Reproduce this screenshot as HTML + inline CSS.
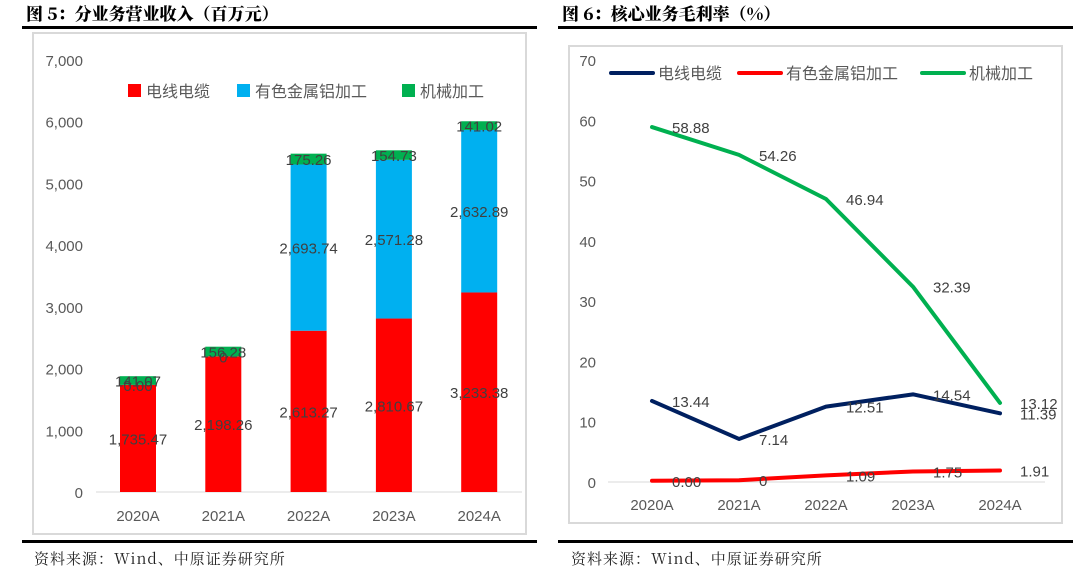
<!DOCTYPE html>
<html><head><meta charset="utf-8">
<style>
body{margin:0;width:1080px;height:577px;background:#fff;position:relative;overflow:hidden;font-family:"Liberation Sans","Noto Sans CJK SC",sans-serif;}
.t{position:absolute;font-family:"Noto Serif CJK SC","Liberation Serif",serif;font-weight:900;font-size:17px;color:#000;}
.rule{position:absolute;height:3px;background:#000;}
.src{position:absolute;font-family:"Noto Serif CJK SC","Liberation Mono",serif;font-size:15px;color:#222;letter-spacing:1px;}
svg{position:absolute;left:0;top:0;}
</style></head><body>
<div class="t" style="left:26px;top:0px">图 5：分业务营业收入（百万元）</div>
<div class="rule" style="left:22px;top:26px;width:515px"></div>
<div class="rule" style="left:22px;top:540px;width:515px"></div>
<div class="src" style="left:34px;top:548px">资料来源：Wind、中原证券研究所</div>
<div class="t" style="left:562px;top:0px">图 6：核心业务毛利率（%）</div>
<div class="rule" style="left:558px;top:26px;width:515px"></div>
<div class="rule" style="left:558px;top:540px;width:515px"></div>
<div class="src" style="left:571px;top:548px">资料来源：Wind、中原证券研究所</div>
<svg id="s" width="1080" height="577"></svg>
<script>
const categories=["2020A","2021A","2022A","2023A","2024A"];
const cableRev=[1735.47,2198.26,2613.27,2810.67,3233.38];
const alumRev=[0,0,2693.74,2571.28,2632.89];
const machRev=[141.07,156.28,175.26,154.73,141.02];
const revTicks=[0,1000,2000,3000,4000,5000,6000,7000];
const cableMargin=[13.44,7.14,12.51,14.54,11.39];
const alumMargin=[0.2,0.3,1.09,1.75,1.91];
const alumMarginLabels=["0.00","0","1.09","1.75","1.91"];
const machMargin=[58.88,54.26,46.94,32.39,13.12];
const marginTicks=[0,10,20,30,40,50,60,70];

const NS="http://www.w3.org/2000/svg",s=document.getElementById('s');
function mk(tag,a,txt){const e=document.createElementNS(NS,tag);for(const k in a)e.setAttribute(k,a[k]);if(txt!==undefined)e.textContent=txt;s.appendChild(e);return e;}
const fmt=v=>v.toLocaleString('en-US',{minimumFractionDigits:2,maximumFractionDigits:2});

// LEFT
let e=mk('rect',{x:33,y:33,width:493,height:501,fill:'#fff',stroke:'#d9d9d9','stroke-width':2});

const ly=v=>492-v*(432/7000), lx=i=>138+i*85.3;
e=mk('line',{x1:96,x2:522,y1:492,y2:492,stroke:'#d9d9d9','stroke-width':1});

revTicks.forEach(t=>{e=mk('text',{x:83,y:ly(t)+6,'text-anchor':'end','font-size':15,fill:'#595959'},t.toLocaleString('en-US'));
});
categories.forEach((c,i)=>{e=mk('text',{x:lx(i),y:521,'text-anchor':'middle','font-size':15,fill:'#595959'},c);
});
const bw=36;
categories.forEach((c,i)=>{
 const b0=cableRev[i],b1=b0+alumRev[i],b2=b1+machRev[i];
 e=mk('rect',{x:lx(i)-bw/2,y:ly(b0),width:bw,height:ly(0)-ly(b0),fill:'#ff0000'});
 
 e=mk('rect',{x:lx(i)-bw/2,y:ly(b1),width:bw,height:ly(b0)-ly(b1),fill:'#00b0f0'});
 
 e=mk('rect',{x:lx(i)-bw/2,y:ly(b2),width:bw,height:ly(b1)-ly(b2),fill:'#00b050'});
 
 e=mk('text',{x:lx(i),y:(ly(0)+ly(b0))/2+6,'text-anchor':'middle','font-size':15,fill:'#404040'},fmt(b0));
 
 e=mk('text',{x:lx(i),y:(ly(b0)+ly(b1))/2+6,'text-anchor':'middle','font-size':15,fill:'#404040'},alumRev[i]?fmt(alumRev[i]):(i==0?'0.00':'0'));
 
 e=mk('text',{x:lx(i),y:(ly(b1)+ly(b2))/2+6,'text-anchor':'middle','font-size':15,fill:'#404040'},fmt(machRev[i]));
 
});
[[128,'#ff0000','电线电缆'],[237,'#00b0f0','有色金属铝加工'],[402,'#00b050','机械加工']].forEach(([x,c,t])=>{
 e=mk('rect',{x:x,y:84,width:13,height:13,fill:c});
 e=mk('text',{x:x+18,y:97,'font-size':16,fill:'#595959'},t);
});

// RIGHT
e=mk('rect',{x:569,y:46,width:493,height:477,fill:'#fff',stroke:'#d9d9d9','stroke-width':2});

const ry=v=>482-v*(422/70), rx=i=>652+i*87;
e=mk('line',{x1:608,x2:1045,y1:482,y2:482,stroke:'#d9d9d9','stroke-width':1});

marginTicks.forEach(t=>{e=mk('text',{x:596,y:ry(t)+6,'text-anchor':'end','font-size':15,fill:'#595959'},t);
});
categories.forEach((c,i)=>{e=mk('text',{x:rx(i),y:510,'text-anchor':'middle','font-size':15,fill:'#595959'},c);
});
function line(vals,col,name,labels){
 e=mk('polyline',{points:vals.map((v,i)=>rx(i)+','+ry(v)).join(' '),fill:'none',stroke:col,'stroke-width':4,'stroke-linejoin':'round','stroke-linecap':'round'});
 
 vals.forEach((v,i)=>{e=mk('text',{x:rx(i)+20,y:ry(v)+6,'font-size':15,fill:'#404040'},labels?labels[i]:v.toFixed(2));
 });
}
line(machMargin,'#00b050','line-machining');
line(cableMargin,'#002060','line-cable');
line(alumMargin,'#ff0000','line-aluminum',alumMarginLabels);
[[611,'#002060','电线电缆'],[739,'#ff0000','有色金属铝加工'],[922,'#00b050','机械加工']].forEach(([x,c,t])=>{
 e=mk('line',{x1:x,x2:x+42,y1:73,y2:73,stroke:c,'stroke-width':4,'stroke-linecap':'round'});
 e=mk('text',{x:x+47,y:79,'font-size':16,fill:'#595959'},t);
});
</script>
</body></html>
